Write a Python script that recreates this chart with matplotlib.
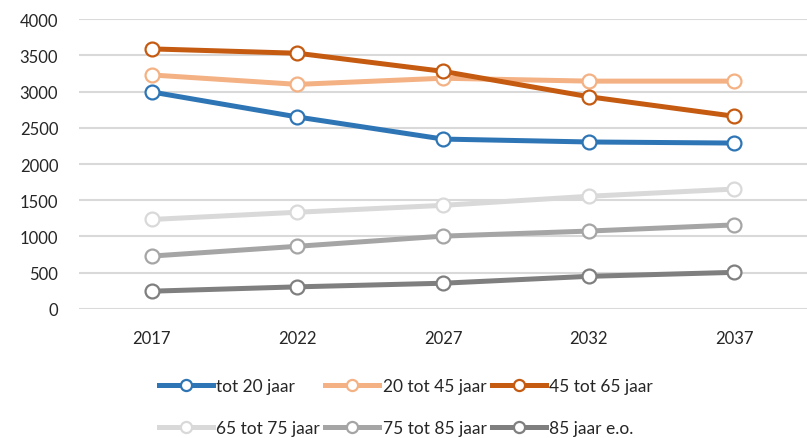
import matplotlib.pyplot as plt

years = ["2017", "2022", "2027", "2032", "2037"]
series_names = ["tot 20 jaar", "20 tot 45 jaar", "45 tot 65 jaar",
                "65 tot 75 jaar", "75 tot 85 jaar", "85 jaar e.o."]
tot_20 = [2995, 2650, 2345, 2305, 2290]
tot_45 = [3230, 3100, 3185, 3145, 3145]
tot_65 = [3590, 3530, 3280, 2930, 2660]
tot_75 = [1235, 1335, 1430, 1555, 1655]
tot_85 = [730, 865, 1005, 1075, 1160]
plus_85 = [245, 305, 355, 450, 505]
colors = ["#2E75B6", "#F4B183", "#C55A11", "#D9D9D9", "#A5A5A5", "#7F7F7F"]

plt.rcParams['font.family'] = ['Lato', 'DejaVu Sans']

fig = plt.figure(figsize=(8.07, 4.39), dpi=100)
ax = fig.add_axes([0.098, 0.294, 0.902, 0.66])

x = range(len(years))
all_series = [tot_20, tot_45, tot_65, tot_75, tot_85, plus_85]
lines = []
for vals, name, c in zip(all_series, series_names, colors):
    ln, = ax.plot(x, vals, color=c, lw=3.6, marker="o", markersize=10,
                  markerfacecolor="white", markeredgecolor=c, markeredgewidth=1.6,
                  label=name, zorder=3)
    lines.append(ln)

ax.set_xlim(-0.5, len(years) - 0.5)
ax.set_ylim(0, 4000)
ax.set_yticks(range(0, 4001, 500))
ax.set_xticks(list(x))
ax.set_xticklabels(years)
ax.grid(axis="y", color="#D9D9D9", lw=1.5)
ax.set_axisbelow(True)
for s in ax.spines.values():
    s.set_visible(False)
ax.tick_params(length=0, labelsize=12, colors="#262626", pad=15)

# legend fills column by column, so reorder to read row by row
order = [0, 3, 1, 4, 2, 5]
leg = fig.legend([lines[i] for i in order], [series_names[i] for i in order],
                 loc="center", bbox_to_anchor=(0.503, 0.071), ncol=3, frameon=False,
                 fontsize=12.5, handlelength=3.1, handletextpad=0.2, columnspacing=0.3,
                 labelspacing=1.5, labelcolor="#262626")
for h in leg.legend_handles:
    h.set_markersize(8)

fig.savefig("out.png", dpi=100)
